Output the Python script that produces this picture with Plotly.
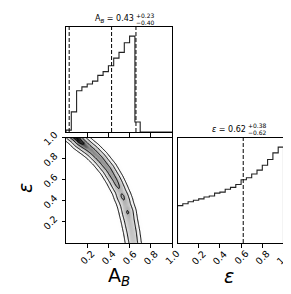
import numpy as np
import plotly.graph_objects as go

W, H = 291, 294

# ---------------- data ----------------
bin_edges = [i * 0.05 for i in range(21)]
hist_ab = [0.02, 0.21, 0.43, 0.47, 0.50, 0.53, 0.59, 0.63, 0.69, 0.77,
           0.83, 0.93, 1.00, 0.105, 0, 0, 0, 0, 0, 0]
hist_eps = [0.39, 0.41, 0.43, 0.445, 0.46, 0.48, 0.49, 0.52, 0.53, 0.56,
            0.58, 0.61, 0.66, 0.68, 0.72, 0.76, 0.81, 0.87, 0.94, 1.00]
q_ab = [0.03, 0.43, 0.66]
q_eps = [0.0, 0.62, 1.0]
tick_vals = [0.2, 0.4, 0.6, 0.8, 1.0]
tick_text = ["0.2", "0.4", "0.6", "0.8", "1.0"]

# ridge of the 2-D posterior (eps -> A_B centre) and its relative height
ridge_eps = [-0.1, 0.0, 0.1, 0.2, 0.3, 0.4, 0.5, 0.6, 0.7, 0.8, 0.87, 0.93, 0.97, 1.0, 1.04]
ridge_ab = [0.655, 0.635, 0.62, 0.60, 0.58, 0.55, 0.51, 0.46, 0.40, 0.32, 0.25, 0.175, 0.125, 0.10, 0.05]
amp_eps = [0.0, 0.22, 0.29, 0.36, 0.44, 0.49, 0.56, 0.75, 0.9, 0.97, 1.0]
amp_val = [0.40, 0.48, 0.58, 0.50, 0.60, 0.52, 0.62, 0.68, 0.74, 0.95, 1.0]
levels = [0.05, 0.22, 0.56, 0.85]
band_w = 0.037

# ---------------- density grid built from the ridge ----------------
g = np.linspace(0, 1, 121)
GX, GY = np.meshgrid(g, g)
s_eps = np.linspace(ridge_eps[0], ridge_eps[-1], 500)
s_ab = np.interp(s_eps, ridge_eps, ridge_ab)
s_amp = np.interp(s_eps, amp_eps, amp_val)
dx = GX[..., None] - s_ab[None, None, :]
dy = GY[..., None] - s_eps[None, None, :]
Z = (s_amp[None, None, :] * np.exp(-0.5 * (dx**2 + dy**2) / band_w**2)).max(axis=2)


def xd(a, b):
    return [a / W, b / W]


def yd(top, bottom):
    return [1 - bottom / H, 1 - top / H]


def step(edges, counts):
    xs = [edges[0]] + list(edges) + [edges[-1]]
    ys = [0] + list(counts) + [counts[-1], 0]
    return xs, ys


fig = go.Figure()

xs, ys = step(bin_edges, hist_ab)
fig.add_trace(go.Scatter(x=xs, y=ys, mode="lines", line=dict(color="#222", width=1.1, shape="hv"),
                         xaxis="x", yaxis="y", showlegend=False, hoverinfo="skip"))
xs, ys = step(bin_edges, hist_eps)
fig.add_trace(go.Scatter(x=xs, y=ys, mode="lines", line=dict(color="#222", width=1.1, shape="hv"),
                         xaxis="x3", yaxis="y3", showlegend=False, hoverinfo="skip"))

fig.add_trace(go.Heatmap(x=g, y=g, z=Z, zmin=0, zmax=1.0, zsmooth="best",
                         colorscale=[[0, "#ffffff"], [0.05, "#fafafa"], [0.25, "#dedede"],
                                     [0.5, "#bababa"], [0.7, "#939393"], [0.85, "#4a4a4a"],
                                     [1, "#000000"]],
                         showscale=False, xaxis="x2", yaxis="y2", hoverinfo="skip"))
for L in levels:
    fig.add_trace(go.Contour(x=g, y=g, z=Z, autocontour=False,
                             contours=dict(start=L, end=L, size=0.1, coloring="none"),
                             line=dict(color="black", width=1), showscale=False,
                             xaxis="x2", yaxis="y2", hoverinfo="skip"))

shapes = []
for q in q_ab:
    shapes.append(dict(type="line", xref="x", yref="y domain", x0=q, x1=q, y0=0, y1=1,
                       line=dict(color="black", width=1, dash="4px,2px")))
for q in q_eps:
    shapes.append(dict(type="line", xref="x3", yref="y3 domain", x0=q, x1=q, y0=0, y1=1,
                       line=dict(color="black", width=1, dash="4px,2px")))

ax_common = dict(showline=True, mirror=True, linecolor="black", linewidth=1,
                 showgrid=False, zeroline=False, ticks="outside", ticklen=3.5,
                 tickwidth=1, tickcolor="black", showticklabels=False)

fig.update_layout(
    width=W, height=H, margin=dict(l=0, r=0, t=0, b=0), autosize=False,
    paper_bgcolor="white", plot_bgcolor="white", showlegend=False,
    xaxis=dict(domain=xd(58, 164), anchor="y", range=[0, 1], tickvals=tick_vals, **ax_common),
    yaxis=dict(domain=yd(18.5, 124), anchor="x", range=[0, 1.1], **{**ax_common, "ticks": ""}),
    xaxis2=dict(domain=xd(58, 164), anchor="y2", range=[0, 1], tickvals=tick_vals, **ax_common),
    yaxis2=dict(domain=yd(129.5, 235), anchor="x2", range=[0, 1], tickvals=tick_vals, **ax_common),
    xaxis3=dict(domain=xd(169.5, 275.5), anchor="y3", range=[0, 1], tickvals=tick_vals, **ax_common),
    yaxis3=dict(domain=yd(129.5, 235), anchor="x3", range=[0, 1.1], **{**ax_common, "ticks": ""}),
    shapes=shapes,
)


def ann(text, px, py, size, xanchor="center", yanchor="middle", angle=0):
    fig.add_annotation(text=text, x=px / W, y=1 - py / H, xref="paper", yref="paper",
                       showarrow=False, xanchor=xanchor, yanchor=yanchor, textangle=angle,
                       borderpad=0,
                       font=dict(family="DejaVu Sans", size=size, color="black"))


# rotated tick labels, centred on their ticks (matplotlib style)
tick_font = dict(family="DejaVu Sans", size=9.5, color="black")
for v, t in zip(tick_vals, tick_text):
    for xr in ("x2", "x3"):
        fig.add_annotation(text=t, x=v, xref=xr, y=1 - 249.5 / H, yref="paper",
                           showarrow=False, textangle=-45, xanchor="center",
                           yanchor="middle", borderpad=0, font=tick_font)
    fig.add_annotation(text=t, x=42.5 / W, xref="paper", y=v, yref="y2", yshift=-1,
                       showarrow=False, textangle=-45, xanchor="center",
                       yanchor="middle", borderpad=0, font=tick_font)

# titles above the histograms
ann("A<sub><i>B</i></sub> = 0.43", 126.5, 11.5, 8, xanchor="right")
ann("+0.23", 127, 7.5, 6, xanchor="left")
ann("−0.40", 127, 14.5, 6, xanchor="left")
ann("<i>ε</i> = 0.62", 238.5, 121, 8, xanchor="right")
ann("+0.38", 239, 117, 6, xanchor="left")
ann("−0.62", 239, 124, 6, xanchor="left")

# axis labels
ann("A<sub><i>B</i></sub>", 111, 268, 19)
ann("<i>ε</i>", 221, 268, 19)
ann("<i>ε</i>", 17, 180, 19, angle=-90)

fig.write_html("out.html")
